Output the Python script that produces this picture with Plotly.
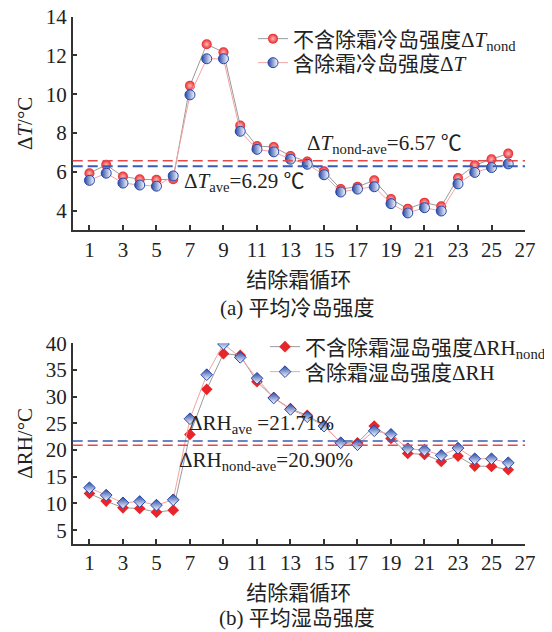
import plotly.graph_objects as go

cycles = list(range(1, 27))

# (a) average cold-island intensity
dT_nond = [5.93, 6.36, 5.76, 5.62, 5.59, 5.62, 10.44, 12.58, 12.17, 8.39,
           7.33, 7.28, 6.82, 6.53, 6.03, 5.11, 5.23, 5.56, 4.60, 4.09,
           4.41, 4.22, 5.68, 6.34, 6.65, 6.94]
dT = [5.56, 5.93, 5.42, 5.32, 5.26, 5.79, 9.97, 11.83, 11.83, 8.09,
      7.16, 7.03, 6.65, 6.39, 5.85, 4.96, 5.11, 5.23, 4.36, 3.88,
      4.15, 3.98, 5.38, 5.97, 6.22, 6.41]
dT_nond_ave = 6.57
dT_ave = 6.29

# (b) average humidity-island intensity
dRH_nond = [11.87, 10.44, 9.19, 9.06, 8.37, 8.75, 22.94, 31.37, 38.06, 37.75,
            32.81, 29.81, 27.75, 26.50, 24.62, 21.37, 21.37, 24.50, 22.19, 19.37,
            19.19, 17.87, 18.87, 17.00, 16.94, 16.31]
dRH = [12.94, 11.56, 10.12, 10.37, 9.69, 10.69, 25.87, 34.12, 39.87, 37.37,
       33.44, 29.75, 27.62, 26.25, 24.50, 21.37, 21.00, 23.62, 22.94, 20.25,
       20.00, 19.00, 20.37, 18.37, 18.37, 17.62]
dRH_nond_ave = 20.90
dRH_ave = 21.71

x_ticks = list(range(1, 28, 2))
y_ticks_a = [4, 6, 8, 10, 12, 14]
y_ticks_b = [5, 10, 15, 20, 25, 30, 35, 40]

RED = "#e8262a"
BLUE = "#2447a8"
GRAY_LINE = "#9a9a9a"
PINK_LINE = "#f3a2a2"
DASH_RED = "#e8474a"
DASH_BLUE = "#3b5cb5"
AX = "#333333"
TXT = "#222222"
FONT = "Times New Roman, Liberation Serif, Noto Sans CJK SC, serif"
FS = 21

# page body has an 8px default margin: figure is drawn at (8, 8)
OFF = 8
W, H = 552 - OFF, 632 - OFF


def px(x):
    return (x - OFF) / W


def py(y):
    return 1 - (y - OFF) / H


fig = go.Figure()

# ---- (a)
fig.add_trace(go.Scatter(
    x=cycles, y=dT_nond, mode="lines+markers",
    name="不含除霜冷岛强度Δ<i>T</i><sub>nond</sub>",
    line=dict(color=GRAY_LINE, width=1),
    marker=dict(symbol="circle", size=10, color=RED,
                gradient=dict(type="radial", color="#ffb8b8"),
                line=dict(width=0)),
    xaxis="x", yaxis="y", legend="legend"))
fig.add_trace(go.Scatter(
    x=cycles, y=dT, mode="lines+markers",
    name="含除霜冷岛强度Δ<i>T</i>",
    line=dict(color=PINK_LINE, width=1),
    marker=dict(symbol="circle", size=10, color=BLUE,
                gradient=dict(type="horizontal", color="#ffffff"),
                line=dict(width=1, color=BLUE)),
    xaxis="x", yaxis="y", legend="legend2"))

# ---- (b)
fig.add_trace(go.Scatter(
    x=cycles, y=dRH_nond, mode="lines+markers",
    name="不含除霜湿岛强度ΔRH<sub>nond</sub>",
    line=dict(color=GRAY_LINE, width=1),
    marker=dict(symbol="diamond", size=9, color=RED, line=dict(width=0)),
    xaxis="x2", yaxis="y2", legend="legend3"))
fig.add_trace(go.Scatter(
    x=cycles, y=dRH, mode="lines+markers",
    name="含除霜湿岛强度ΔRH",
    line=dict(color=PINK_LINE, width=1),
    marker=dict(symbol="diamond", size=9, color=BLUE,
                gradient=dict(type="vertical", color="#ffffff"),
                line=dict(width=1, color=BLUE)),
    xaxis="x2", yaxis="y2", legend="legend4"))

# average lines
fig.add_hline(y=dT_nond_ave, line=dict(color=DASH_RED, width=1.5, dash="10px,5px"), xref="x", yref="y")
fig.add_hline(y=dT_ave, line=dict(color=DASH_BLUE, width=2, dash="10px,5px"), xref="x", yref="y")
fig.add_hline(y=dRH_ave, line=dict(color=DASH_BLUE, width=1.5, dash="10px,5px"), xref="x2", yref="y2")
fig.add_hline(y=dRH_nond_ave, line=dict(color=DASH_RED, width=1.5, dash="10px,5px"), xref="x2", yref="y2")

ann_font = dict(family=FONT, size=FS, color=TXT)
fig.add_annotation(x=13.85, y=7.45, xref="x", yref="y", xanchor="left", yanchor="middle",
                   text="Δ<i>T</i><sub>nond-ave</sub>=6.57 ℃", showarrow=False, font=ann_font)
fig.add_annotation(x=6.55, y=5.5, xref="x", yref="y", xanchor="left", yanchor="middle",
                   text="Δ<i>T</i><sub>ave</sub>=6.29 ℃", showarrow=False, font=ann_font)
fig.add_annotation(x=6.8, y=24.8, xref="x2", yref="y2", xanchor="left", yanchor="middle",
                   text="ΔRH<sub>ave</sub> =21.71%", showarrow=False, font=ann_font)
fig.add_annotation(x=6.25, y=18.0, xref="x2", yref="y2", xanchor="left", yanchor="middle",
                   text="ΔRH<sub>nond-ave</sub>=20.90%", showarrow=False, font=ann_font)

# captions
fig.add_annotation(x=px(297), y=py(308), xref="paper", yref="paper", showarrow=False,
                   text="(a) 平均冷岛强度", font=ann_font, xanchor="center", yanchor="middle")
fig.add_annotation(x=px(297), y=py(618), xref="paper", yref="paper", showarrow=False,
                   text="(b) 平均湿岛强度", font=ann_font, xanchor="center", yanchor="middle")

x_dom = [px(72.7), px(525)]
axis_common = dict(showline=True, linecolor=AX, linewidth=1.5, ticks="inside",
                   ticklen=5, tickwidth=1.5, tickcolor=AX, showgrid=False, zeroline=False,
                   ticklabeloverflow="allow",
                   tickfont=dict(family=FONT, size=FS, color=TXT))
xcommon = dict(axis_common, range=[0, 27], tickvals=x_ticks,
               title=dict(text="结除霜循环", font=dict(family=FONT, size=FS, color=TXT), standoff=11))

legend_common = dict(xanchor="left", yanchor="middle", bgcolor="rgba(0,0,0,0)", borderwidth=0,
                     font=dict(family=FONT, size=FS, color=TXT))

fig.update_layout(
    width=W, height=H,
    margin=dict(l=0, r=0, t=0, b=0, autoexpand=False),
    paper_bgcolor="white", plot_bgcolor="white",
    font=dict(family=FONT, size=FS, color=TXT),
    xaxis=dict(xcommon, domain=x_dom, anchor="y"),
    yaxis=dict(axis_common, domain=[py(230), py(16.7)], anchor="x",
               range=[3, 14], tickvals=y_ticks_a,
               title=dict(text="Δ<i>T</i>/°C", font=dict(family=FONT, size=FS, color=TXT), standoff=7)),
    xaxis2=dict(xcommon, domain=x_dom, anchor="y2"),
    yaxis2=dict(axis_common, domain=[py(543.5), py(343.3)], anchor="x2",
                range=[2.5, 40], tickvals=y_ticks_b,
                title=dict(text="ΔRH/°C", font=dict(family=FONT, size=FS, color=TXT), standoff=7)),
    legend=dict(legend_common, x=px(253), y=py(39)),
    legend2=dict(legend_common, x=px(253), y=py(63)),
    legend3=dict(legend_common, x=px(265), y=py(347)),
    legend4=dict(legend_common, x=px(265), y=py(372)),
    showlegend=True,
)

fig.write_html("out.html")
